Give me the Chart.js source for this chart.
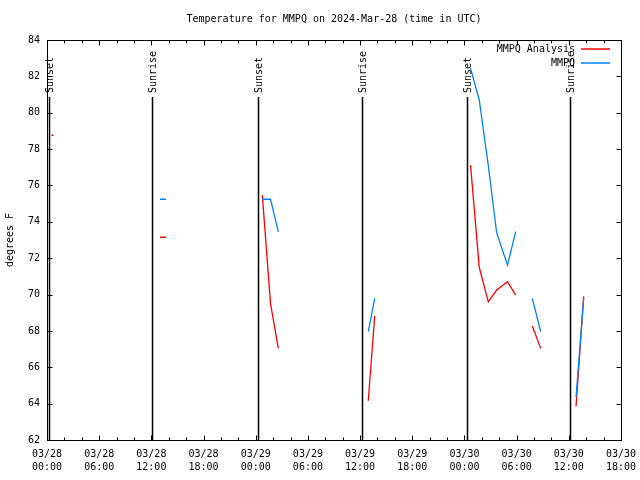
<!DOCTYPE html>
<html>
<head>
<meta charset="utf-8">
<script src="https://cdn.jsdelivr.net/npm/chart.js@4/dist/chart.umd.min.js"></script>
<style>
html, body { margin: 0; padding: 0; background: #fff; }
#wrap { width: 640px; height: 480px; }
</style>
</head>
<body>
<div id="wrap"><canvas id="myChart" width="640" height="480"></canvas></div>
<script>
// hours since 03/28 00:00 UTC
var hours = [0.61, 12.99, 13.68, 24.76, 25.7, 26.6, 36.94, 37.68,
             48.7, 49.7, 50.74, 51.7, 52.95, 53.89, 55.8, 56.77, 60.83, 61.71];
var analysisTemps = [78.76, 73.15, 73.15, 75.47, 69.5, 67.04, 64.16, 68.82,
                     77.12, 71.5, 69.6, 70.25, 70.71, 69.97, 68.27, 67.04, 63.85, 69.9];
var observedTemps = [null, 75.24, 75.24, 75.24, 75.24, 73.45, 67.96, 69.79,
                     82.44, 80.7, 77.1, 73.4, 71.62, 73.46, 69.79, 67.96, 64.35, 69.8];

var eventHours = [0.25, 12.1, 24.3, 36.18, 48.33, 60.17];
var eventNames = ['Sunset', 'Sunrise', 'Sunset', 'Sunrise', 'Sunset', 'Sunrise'];

var xTickLabels = ['03/28 00:00', '03/28 06:00', '03/28 12:00', '03/28 18:00',
                   '03/29 00:00', '03/29 06:00', '03/29 12:00', '03/29 18:00',
                   '03/30 00:00', '03/30 06:00', '03/30 12:00', '03/30 18:00'];

var FONT = 'DejaVu Sans Mono';
var RED = 'rgb(255,0,0)';
var BLUE = 'rgb(0,128,255)';
var MAXGAP = 1.5;

function pts(vals) {
    var out = [];
    for (var i = 0; i < hours.length; i++) out.push({x: hours[i], y: vals[i]});
    return out;
}

// show a dot only where a value has no neighbour to join with
function lonely(ctx) {
    var d = ctx.dataset.data, i = ctx.dataIndex;
    if (d[i].y == null) return 0;
    var prev = i > 0 && d[i - 1].y != null && d[i].x - d[i - 1].x <= MAXGAP;
    var next = i < d.length - 1 && d[i + 1].y != null && d[i + 1].x - d[i].x <= MAXGAP;
    return (prev || next) ? 0 : 1;
}

var sunLines = {
    id: 'sunLines',
    beforeDatasetsDraw: function(chart) {
        var c = chart.ctx, xs = chart.scales.x, a = chart.chartArea;
        c.save();
        c.strokeStyle = '#000';
        c.lineWidth = 1.5;
        c.fillStyle = '#000';
        c.font = '10px "' + FONT + '"';
        for (var i = 0; i < eventHours.length; i++) {
            var x = Math.round(xs.getPixelForValue(eventHours[i])) + 0.5;
            c.beginPath();
            c.moveTo(x, 97);
            c.lineTo(x, a.bottom);
            c.stroke();
            c.save();
            c.translate(x + 1, 93);
            c.rotate(-Math.PI / 2);
            c.textAlign = 'left';
            c.textBaseline = 'middle';
            c.fillText(eventNames[i], 0, 0);
            c.restore();
        }
        c.restore();
    }
};

var frame = {
    id: 'frame',
    afterDraw: function(chart) {
        var c = chart.ctx, a = chart.chartArea, xs = chart.scales.x, ys = chart.scales.y;
        var L = Math.round(a.left) + 0.5, R = Math.round(a.right) + 0.5;
        var T = Math.round(a.top) + 0.5, B = Math.round(a.bottom) + 0.5;
        c.save();
        c.strokeStyle = '#000';
        c.lineWidth = 1;
        c.strokeRect(L, T, R - L, B - T);
        c.beginPath();
        for (var h = 0; h <= 66; h += 2) {
            var x = Math.round(xs.getPixelForValue(h)) + 0.5;
            var len = (h % 6 === 0) ? 5 : 3;
            c.moveTo(x, B); c.lineTo(x, B - len);
            c.moveTo(x, T); c.lineTo(x, T + len);
        }
        for (var v = 62; v <= 84; v += 2) {
            var y = Math.round(ys.getPixelForValue(v)) + 0.5;
            c.moveTo(L, y); c.lineTo(L + 5, y);
            c.moveTo(R, y); c.lineTo(R - 5, y);
        }
        c.stroke();

        // legend, top right inside the plot
        var ds = chart.data.datasets;
        c.font = '10px "' + FONT + '"';
        c.textAlign = 'right';
        c.textBaseline = 'middle';
        c.lineWidth = 1.5;
        for (var i = 0; i < ds.length; i++) {
            var ly = 49 + i * 14;
            c.fillStyle = '#000';
            c.fillText(ds[i].label, 575, ly);
            c.strokeStyle = ds[i].borderColor;
            c.beginPath();
            c.moveTo(581, ly);
            c.lineTo(610, ly);
            c.stroke();
        }
        c.restore();
    }
};

new Chart(document.getElementById('myChart'), {
    type: 'line',
    data: {
        datasets: [{
            label: 'MMPQ Analysis',
            data: pts(analysisTemps),
            borderColor: RED,
            backgroundColor: RED,
            borderWidth: 1.3,
            pointRadius: lonely,
            pointBorderWidth: 0,
            pointHoverRadius: 0,
            spanGaps: MAXGAP,
            order: 1
        }, {
            label: 'MMPQ',
            data: pts(observedTemps),
            borderColor: BLUE,
            backgroundColor: BLUE,
            borderWidth: 1.3,
            pointRadius: lonely,
            pointBorderWidth: 0,
            pointHoverRadius: 0,
            spanGaps: MAXGAP,
            order: 0
        }]
    },
    options: {
        responsive: false,
        animation: false,
        devicePixelRatio: 1,
        layout: { padding: { left: 0, right: 19, top: 0, bottom: 0 } },
        plugins: {
            legend: { display: false },
            tooltip: { enabled: false },
            title: {
                display: true,
                fullSize: false,
                text: 'Temperature for MMPQ on 2024-Mar-28 (time in UTC)',
                color: '#000',
                font: { family: FONT, size: 10, weight: 'normal', lineHeight: 1.2 },
                padding: { top: 13, bottom: 15 }
            }
        },
        scales: {
            x: {
                type: 'linear',
                min: 0,
                max: 66,
                afterFit: function(s) { s.height = 40; s.paddingLeft = 0; s.paddingRight = 0; },
                grid: { display: false, drawTicks: false },
                border: { display: false },
                ticks: {
                    stepSize: 6,
                    autoSkip: false,
                    maxRotation: 0,
                    padding: 8,
                    color: '#000',
                    font: { family: FONT, size: 10, lineHeight: 1.3 },
                    callback: function(v) {
                        var s = xTickLabels[Math.round(v / 6)];
                        return s ? s.split(' ') : '';
                    }
                }
            },
            y: {
                min: 62,
                max: 84,
                afterFit: function(s) { s.width = 47; s.paddingTop = 0; s.paddingBottom = 0; },
                grid: { display: false, drawTicks: false },
                border: { display: false },
                ticks: {
                    stepSize: 2,
                    padding: 7,
                    color: '#000',
                    font: { family: FONT, size: 10 }
                },
                title: {
                    display: true,
                    text: 'degrees F',
                    color: '#000',
                    font: { family: FONT, size: 10 },
                    padding: { top: 4, bottom: 0 }
                }
            }
        }
    },
    plugins: [sunLines, frame]
});
</script>
</body>
</html>
